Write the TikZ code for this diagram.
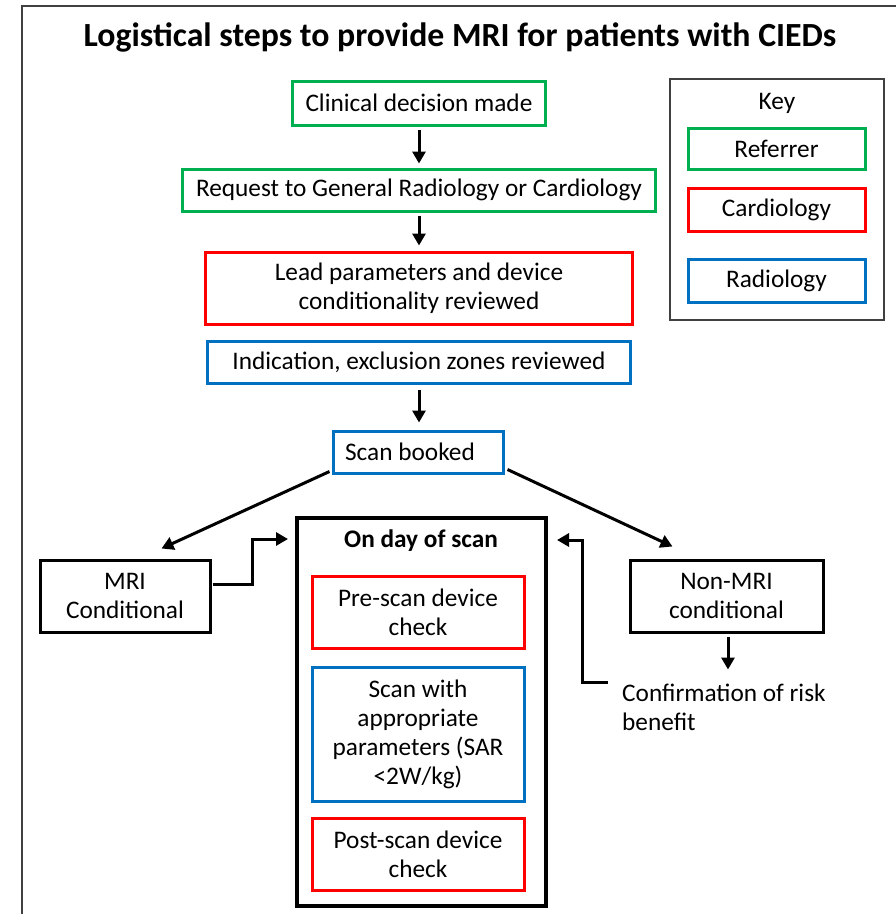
\documentclass[tikz,border=0pt]{standalone}
\usepackage{fontspec}
\setmainfont{Carlito}
\usetikzlibrary{arrows.meta,calc}
\definecolor{cgreen}{HTML}{00B050}
\definecolor{cred}{HTML}{FF0000}
\definecolor{cblue}{HTML}{0070C0}
\definecolor{frame}{HTML}{404040}
\begin{document}
\begin{tikzpicture}[x=1pt,y=-1pt,
  box/.style={draw, line width=3pt, inner sep=0pt, align=center, font=\fontsize{25.3}{29}\selectfont},
  gbox/.style={box, draw=cgreen},
  rbox/.style={box, draw=cred},
  bbox/.style={box, draw=cblue},
  kbox/.style={box, draw=black},
  arr/.style={line width=3pt, -{Triangle[length=12pt,width=13pt]}},
  plain/.style={inner sep=0pt, align=left, font=\fontsize{25.3}{29}\selectfont}]
\useasboundingbox (0,0) rectangle (896,914);
\fill[white] (0,0) rectangle (896,914);
\draw[line width=1.3pt, frame] (22,914) -- (22,6) -- (896,6);

\node[inner sep=0pt, font=\bfseries\fontsize{33.8}{38}\selectfont] (title) at (460,37) {Logistical steps to provide MRI for patients with CIEDs};

\node[gbox, minimum width=253, minimum height=44] (cdm) at (419,103) {Clinical decision made};
\node[gbox, minimum width=473, minimum height=42] (req) at (419,190) {Request to General Radiology or Cardiology};
\node[rbox, minimum width=427, minimum height=72] (lead) at (419,288) {Lead parameters and device\\conditionality reviewed};
\node[bbox, minimum width=423, minimum height=42] (ind) at (419,362) {Indication, exclusion zones reviewed};
\node[bbox, minimum width=170, minimum height=42] (sb) at (418,452) {Scan booked\hspace*{16pt}};

\node[draw, line width=4pt, minimum width=249, minimum height=388, inner sep=0pt] (day) at (421.5,712) {};
\node[inner sep=0pt, font=\bfseries\fontsize{25.3}{29}\selectfont] (dayt) at (421,541) {On day of scan};
\node[rbox, minimum width=212, minimum height=72] (pre) at (418,612) {Pre-scan device\\check};
\node[bbox, minimum width=212, minimum height=134] (scan) at (418,734) {Scan with\\appropriate\\parameters (SAR\\<2W/kg)};
\node[rbox, minimum width=212, minimum height=72] (post) at (418,854) {Post-scan device\\check};

\node[kbox, minimum width=170, minimum height=72] (mri) at (125,596) {MRI\\Conditional};
\node[kbox, minimum width=193, minimum height=72] (non) at (726.5,596) {Non-MRI\\conditional};
\node[plain, anchor=north west] (conf) at (622,684) {Confirmation of risk\\benefit};

\draw[line width=1.3pt, frame] (670,79) rectangle (884,320);
\node[inner sep=0pt, font=\fontsize{25.3}{29}\selectfont] (key) at (777,103) {Key};
\node[gbox, minimum width=177, minimum height=41] (kref) at (776.5,148.5) {Referrer};
\node[rbox, minimum width=177, minimum height=43] (kcar) at (776.5,209.5) {Cardiology};
\node[bbox, minimum width=177, minimum height=43] (krad) at (776.5,280.5) {Radiology};

\draw[arr, shorten <=3pt, shorten >=4pt] (cdm.south) -- (req.north);
\draw[arr, shorten <=3pt, shorten >=5pt] (req.south) -- (lead.north);
\draw[arr, shorten <=5pt, shorten >=7pt] (ind.south) -- (ind.south |- sb.north);
\draw[arr] ($(sb.south west)+(-2,-3)$) -- ($(mri.north west)+(123,-10)$);
\draw[arr] ($(sb.south east)+(3,-5)$) -- ($(non.north west)+(44,-12)$);
\draw[arr] ($(mri.east)+(1,-12)$) -- ++(40,0) |- ($(day.north west)+(-7,23)$);
\draw[arr, shorten <=3pt] ($(non.south)+(1.5,0)$) -- ($(non.south)+(1.5,36)$);
\draw[arr] ($(conf.north west)+(-14,-2)$) -- ++(-26,0) |- ($(day.north east)+(9,24)$);
\end{tikzpicture}
\end{document}
